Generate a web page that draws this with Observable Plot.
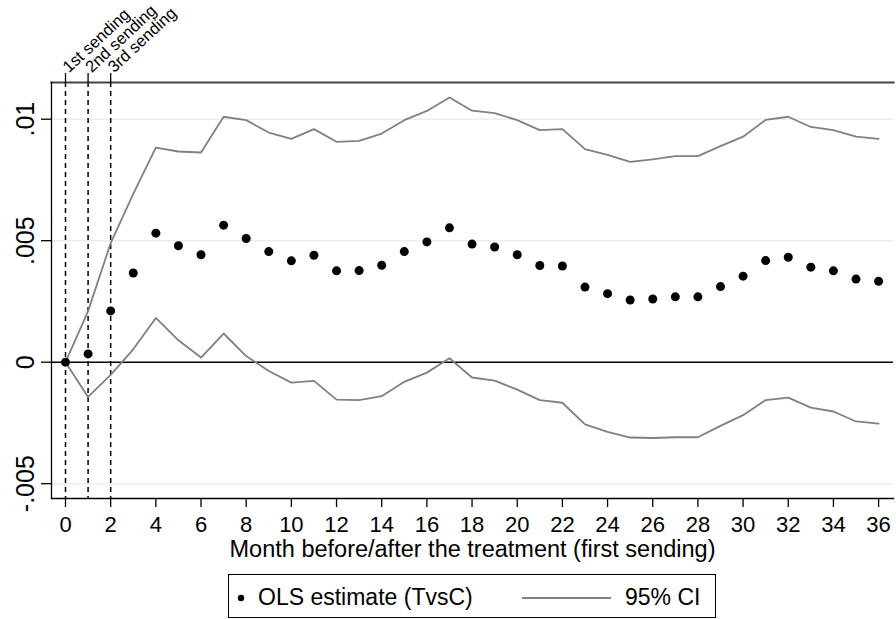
<!DOCTYPE html>
<html>
<head>
<meta charset="utf-8">
<script src="https://cdn.jsdelivr.net/npm/d3@7"></script>
<script src="https://cdn.jsdelivr.net/npm/@observablehq/plot@0.6"></script>
<style>
  body { margin: 0; background: #fff; font-family: "Liberation Sans", Arial, sans-serif; }
  #chart svg { display: block; }
  #legend {
    position: relative; margin-left: 228px; margin-top: 6px;
    width: 486px; height: 42px; border: 1px solid #000; font-size: 23px;
  }
  #legend span { position: absolute; top: 9px; white-space: nowrap; }
  #legend svg { position: absolute; top: 0; left: 0; }
</style>
</head>
<body>
<div id="chart"></div>
<div id="legend">
  <svg width="486" height="42">
    <circle cx="12" cy="23" r="3.2" fill="#000"></circle>
    <line x1="293" x2="382" y1="23" y2="23" stroke="#808080" stroke-width="1.8"></line>
  </svg>
  <span style="left:29px">OLS estimate (TvsC)</span>
  <span style="left:396px">95% CI</span>
</div>
<script>
// months after first sending
const months = [0,1,2,3,4,5,6,7,8,9,10,11,12,13,14,15,16,17,18,19,20,21,22,23,24,25,26,27,28,29,30,31,32,33,34,35,36]

const estimate = [0, 0.00034, 0.00211, 0.00367, 0.00531, 0.00479, 0.00442, 0.00564, 0.00509, 0.00455,
  0.00417, 0.0044, 0.00376, 0.00377, 0.00399, 0.00455, 0.00495, 0.00553, 0.00486, 0.00474,
  0.00442, 0.00398, 0.00396, 0.00309, 0.00282, 0.00256, 0.0026, 0.00269, 0.00269, 0.00311,
  0.00354, 0.00418, 0.00432, 0.00391, 0.00376, 0.00342, 0.00333]

const ciUpper = [0, 0.0021, 0.0049, 0.00693, 0.00883, 0.00867, 0.00863, 0.0101, 0.00996, 0.00945,
  0.00919, 0.00959, 0.00907, 0.00911, 0.00941, 0.00996, 0.01034, 0.01089, 0.01035, 0.01025,
  0.00996, 0.00955, 0.00959, 0.00877, 0.00853, 0.00824, 0.00835, 0.00848, 0.00848, 0.00889,
  0.00928, 0.00997, 0.0101, 0.00968, 0.00955, 0.00928, 0.00919]

const ciLower = [0, -0.00143, -0.00052, 0.00053, 0.00182, 0.0009, 0.00019, 0.00118, 0.00025, -0.00036,
  -0.00084, -0.00077, -0.00154, -0.00156, -0.0014, -0.00081, -0.00043, 0.00016, -0.00063, -0.00076,
  -0.00113, -0.00156, -0.00167, -0.00256, -0.00287, -0.0031, -0.00312, -0.00309, -0.00309, -0.00262,
  -0.00218, -0.00156, -0.00146, -0.00187, -0.00203, -0.00244, -0.00253]

const sendings = [0, 1, 2]
const sendingLabels = ["1st sending", "2nd sending", "3rd sending"]

const xTicks = [0,2,4,6,8,10,12,14,16,18,20,22,24,26,28,30,32,34,36]
const yTicks = [-0.005, 0, 0.005, 0.01]
const yTickLabels = ["-.005", "0", ".005", ".01"]
const xTitle = "Month before/after the treatment (first sending)"

var data = months.map((m, i) => ({month: m, est: estimate[i], hi: ciUpper[i], lo: ciLower[i]}))

var chart = Plot.plot({
  width: 896,
  height: 568,
  marginTop: 82,
  marginBottom: 70,
  marginLeft: 51,
  marginRight: 3,
  style: {fontFamily: "Liberation Sans, Arial, sans-serif", background: "#fff"},
  x: {domain: [-0.62, 36.66]},
  y: {domain: [-0.00561, 0.01151]},
  marks: [
    Plot.ruleY(yTicks.filter(d => d !== 0), {stroke: "#e7eff2", strokeWidth: 1.5}),
    Plot.ruleY([0], {stroke: "#000", strokeWidth: 1.5}),
    Plot.ruleX(sendings, {stroke: "#000", strokeWidth: 1.5, strokeDasharray: "5,4"}),
    Plot.line(data, {x: "month", y: "hi", stroke: "#808080", strokeWidth: 1.8}),
    Plot.line(data, {x: "month", y: "lo", stroke: "#808080", strokeWidth: 1.8}),
    Plot.dot(data, {x: "month", y: "est", r: 4.5, fill: "#000", stroke: null}),
    Plot.frame({anchor: "top", stroke: "#444", strokeWidth: 2.2}),
    Plot.frame({anchor: "left", stroke: "#000", strokeWidth: 1.3}),
    Plot.frame({anchor: "bottom", stroke: "#000", strokeWidth: 1.3}),
    Plot.axisY(yTicks, {
      tickFormat: d => yTickLabels[yTicks.indexOf(d)],
      tickSize: 10, tickPadding: 8, tickRotate: -90, fontSize: 25, label: null,
      stroke: "#000", strokeWidth: 1.3, fill: "#000"
    }),
    Plot.axisX(xTicks, {
      tickSize: 9, tickPadding: 9, fontSize: 22, label: null,
      stroke: "#000", strokeWidth: 1.3, fill: "#000"
    }),
    Plot.axisX(sendings, {
      anchor: "top", tickSize: 10, tickPadding: 3, tickRotate: -43,
      tickFormat: d => sendingLabels[sendings.indexOf(d)],
      textAnchor: "start", fontSize: 16.5, label: null,
      stroke: "#000", strokeWidth: 1.3, fill: "#000"
    }),
    Plot.text([xTitle], {frameAnchor: "bottom", dy: 58, fontSize: 23.5, fill: "#000"})
  ]
})

d3.select("#chart").append(() => chart)
</script>
</body>
</html>
